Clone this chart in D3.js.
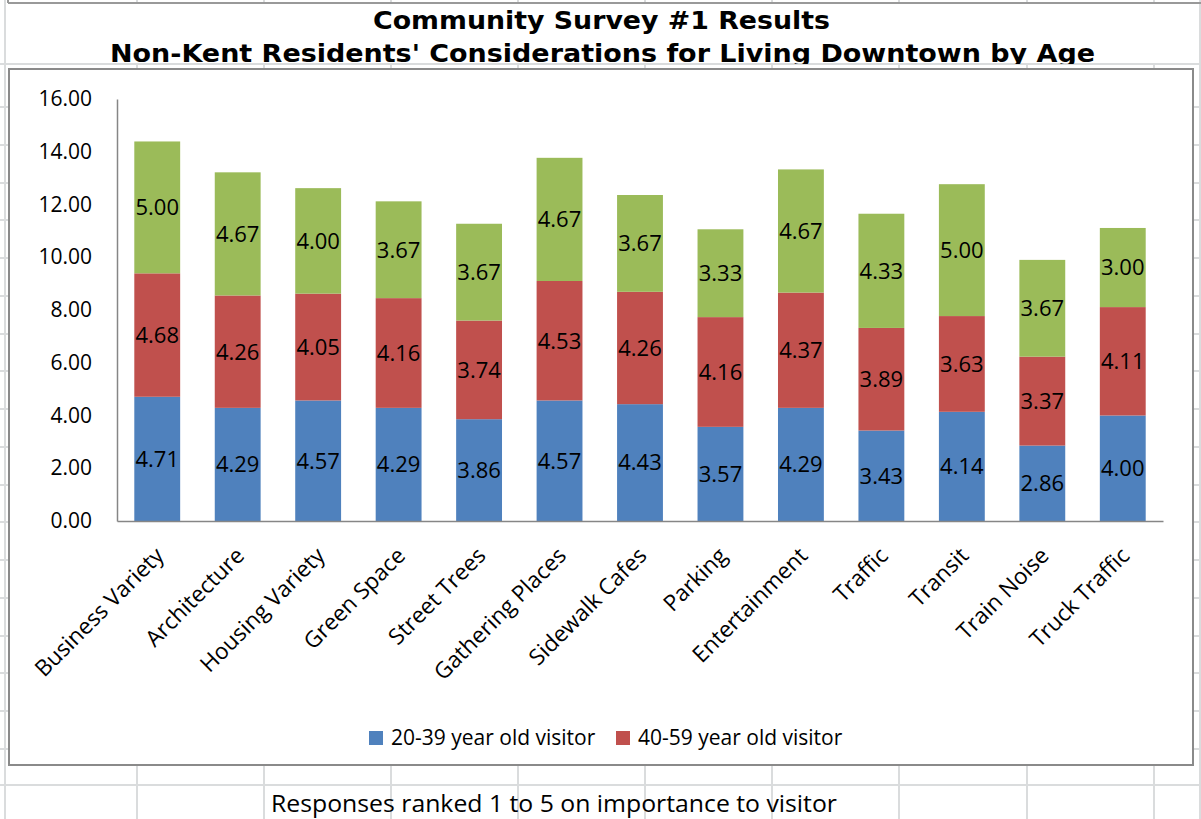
<!DOCTYPE html>
<html>
<head>
<meta charset="utf-8">
<script src="https://cdn.jsdelivr.net/npm/d3@7/dist/d3.min.js"></script>
<style>
  html, body { margin: 0; padding: 0; background: #fff; }
  svg { display: block; }
</style>
</head>
<body>
<svg id="chart" width="1201" height="819"></svg>
<script>
// ---- data ----
const categories = ["Business Variety", "Architecture", "Housing Variety", "Green Space", "Street Trees",
  "Gathering Places", "Sidewalk Cafes", "Parking", "Entertainment", "Traffic", "Transit", "Train Noise", "Truck Traffic"];
const seriesNames = ["20-39 year old visitor", "40-59 year old visitor", "60+ year old visitor"];
const age20to39 = [4.71, 4.29, 4.57, 4.29, 3.86, 4.57, 4.43, 3.57, 4.29, 3.43, 4.14, 2.86, 4.00];
const age40to59 = [4.68, 4.26, 4.05, 4.16, 3.74, 4.53, 4.26, 4.16, 4.37, 3.89, 3.63, 3.37, 4.11];
const age60plus = [5.00, 4.67, 4.00, 3.67, 3.67, 4.67, 3.67, 3.33, 4.67, 4.33, 5.00, 3.67, 3.00];
const yTicks = [0, 2, 4, 6, 8, 10, 12, 14, 16];
const legendSeries = ["20-39 year old visitor", "40-59 year old visitor"];
const titleLines = ["Community Survey #1 Results", "Non-Kent Residents' Considerations for Living Downtown by Age"];
const footnote = "Responses ranked 1 to 5 on importance to visitor";

const colors = ["#4F81BD", "#C0504D", "#9BBB59"];
const svg = d3.select("#chart");
const W = 1201, H = 819;
const gridColor = "#dadcdd";

// ---- spreadsheet grid background ----
const grid = svg.append("g");
const colXs = [137, 264, 391, 518, 645, 772, 899, 1027, 1154];
const rowYs = [64, 107, 145, 183, 220, 258, 296, 334, 371, 409, 447, 485, 522, 560, 598, 636, 673, 711, 749, 785];
colXs.forEach(x => grid.append("line").attr("x1", x).attr("x2", x).attr("y1", 0).attr("y2", H)
  .attr("stroke", gridColor).attr("stroke-width", 2));
rowYs.forEach(y => grid.append("line").attr("x1", 0).attr("x2", W).attr("y1", y).attr("y2", y)
  .attr("stroke", gridColor).attr("stroke-width", 2));
[5, 1200].forEach(x => grid.append("line").attr("x1", x).attr("x2", x).attr("y1", 0).attr("y2", H)
  .attr("stroke", gridColor).attr("stroke-width", 2));

// title region (white cell area)
svg.append("rect").attr("x", 7).attr("y", 3).attr("width", 1192).attr("height", 60).attr("fill", "#fff");
svg.append("line").attr("x1", 8).attr("x2", W).attr("y1", 3).attr("y2", 3).attr("stroke", "#999").attr("stroke-width", 2);
svg.append("line").attr("x1", 8).attr("x2", 8).attr("y1", 0).attr("y2", 3).attr("stroke", "#999").attr("stroke-width", 2);

const clip = svg.append("defs").append("clipPath").attr("id", "titleClip");
clip.append("rect").attr("x", 0).attr("y", 4).attr("width", W).attr("height", 60);
const tg = svg.append("g").attr("clip-path", "url(#titleClip)");
tg.append("text").attr("x", 601.5).attr("y", 29).attr("text-anchor", "middle")
  .attr("font-family", "DejaVu Sans").attr("font-weight", "bold").attr("font-size", 24)
  .attr("textLength", 457).attr("lengthAdjust", "spacingAndGlyphs").attr("fill", "#000").text(titleLines[0]);
tg.append("text").attr("x", 602.5).attr("y", 62).attr("text-anchor", "middle")
  .attr("font-family", "DejaVu Sans").attr("font-weight", "bold").attr("font-size", 24)
  .attr("textLength", 985).attr("lengthAdjust", "spacingAndGlyphs").attr("fill", "#000").text(titleLines[1]);

// chart box
svg.append("rect").attr("x", 9).attr("y", 69).attr("width", 1184).attr("height", 696)
  .attr("fill", "#fff").attr("stroke", "#8a8a8a").attr("stroke-width", 2);

// ---- scales ----
const x = d3.scaleBand().domain(categories).range([117, 1163]).paddingInner(0.43).paddingOuter(0.215);
const y = d3.scaleLinear().domain([0, 16]).range([521, 99]);

// stacked data
const rows = categories.map((c, i) => ({ cat: c, s0: age20to39[i], s1: age40to59[i], s2: age60plus[i] }));
const stack = d3.stack().keys(["s0", "s1", "s2"]);
const layers = stack(rows);

const font = "Open Sans";

const barG = svg.append("g");
layers.forEach((layer, li) => {
  barG.append("g").selectAll("rect").data(layer).join("rect")
    .attr("x", d => x(d.data.cat))
    .attr("width", x.bandwidth())
    .attr("y", d => y(d[1]))
    .attr("height", d => y(d[0]) - y(d[1]))
    .attr("fill", colors[li]);
});
layers.forEach((layer, li) => {
  barG.append("g").selectAll("text").data(layer).join("text")
    .attr("x", d => x(d.data.cat) + x.bandwidth() / 2)
    .attr("y", d => (y(d[0]) + y(d[1])) / 2)
    .attr("dy", "0.36em")
    .attr("text-anchor", "middle")
    .attr("font-family", font).attr("font-size", 22).attr("fill", "#000")
    .text(d => (d[1] - d[0]).toFixed(2));
});

// ---- axes ----
const yAxis = svg.append("g").attr("transform", "translate(117,0)")
  .call(d3.axisLeft(y).tickValues(yTicks).tickFormat(d3.format(".2f")).tickSize(0).tickPadding(25));
yAxis.select(".domain").attr("stroke", "#868686").attr("stroke-width", 1.5);
yAxis.selectAll("text").attr("font-family", font).attr("font-size", 21).attr("fill", "#000");

const xAxis = svg.append("g").attr("transform", "translate(0,521)")
  .call(d3.axisBottom(x).tickSize(0).tickFormat(d => d));
xAxis.select(".domain").attr("stroke", "#868686").attr("stroke-width", 1.5);
xAxis.selectAll(".tick text")
  .attr("font-family", font).attr("font-size", 22.5).attr("fill", "#000")
  .attr("text-anchor", "end").attr("dy", 0).attr("y", 0)
  .attr("transform", "translate(8,36) rotate(-45)");

// ---- legend ----
const legX = [369, 616];
const lg = svg.append("g");
legendSeries.forEach((name, i) => {
  lg.append("rect").attr("x", legX[i]).attr("y", 731).attr("width", 14).attr("height", 14).attr("fill", colors[i]);
  lg.append("text").attr("x", legX[i] + 22).attr("y", 745)
    .attr("font-family", font).attr("font-size", 21).attr("fill", "#000").text(name);
});

// ---- footnote ----
svg.append("text").attr("x", 271).attr("y", 812)
  .attr("font-family", font).attr("font-size", 23).attr("fill", "#000")
  .attr("textLength", 566).attr("lengthAdjust", "spacingAndGlyphs").text(footnote);
</script>
</body>
</html>
